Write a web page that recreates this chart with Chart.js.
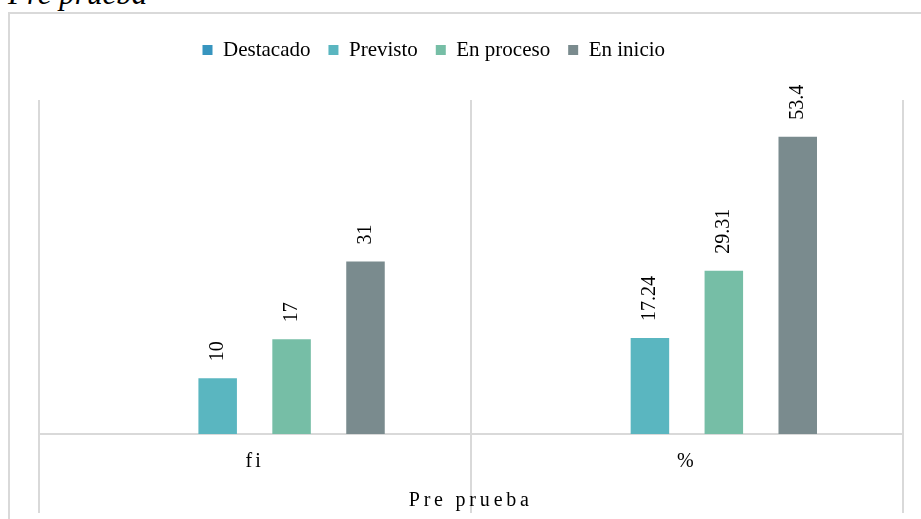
<!DOCTYPE html>
<html>
<head>
<meta charset="utf-8">
<script src="https://cdn.jsdelivr.net/npm/chart.js@4.4.1/dist/chart.umd.min.js"></script>
<style>
  html, body { margin: 0; padding: 0; background: #fff; overflow: hidden; }
  body { width: 921px; height: 519px; position: relative; }
  .titre {
    position: absolute; left: 8px; top: -22.5px;
    font: italic 31px/31px 'Liberation Serif', 'Times New Roman', serif;
    color: #000; white-space: nowrap;
  }
  .cadre {
    position: absolute; left: 8px; top: 12px; width: 940px; height: 540px;
    border-left: 2px solid #d9d9d9; border-top: 2px solid #d9d9d9;
  }
  #chart { position: absolute; left: 0; top: 0; }
</style>
</head>
<body>
<div class="titre">Pre prueba</div>
<div class="cadre"></div>
<canvas id="chart" width="921" height="519"></canvas>
<script>
// données du graphique
const categories = ['fi', '%'];
const seriesNames = ['Destacado', 'Previsto', 'En proceso', 'En inicio'];
const destacado = [0, 0];
const previsto = [10, 17.24];
const enProceso = [17, 29.31];
const enInicio = [31, 53.4];
const axisTitle = 'Pre prueba';
const yMax = 60;

const colors = ['#3795bf', '#5ab6c0', '#76bea6', '#7a8b8e'];
const serif = "'Liberation Serif', 'Times New Roman', serif";
const gridColor = '#d9d9d9';

// petit plugin pour le look Excel
const excelLook = {
  id: 'excelLook',
  afterLayout(chart) {
    // décale la légende comme dans l'original
    const lg = chart.legend;
    if (!lg) return;
    lg.left += 146; lg.right += 146;
    lg.top -= 29.5; lg.bottom -= 29.5;
  },
  afterDatasetsDraw(chart) {
    const ctx = chart.ctx;
    ctx.save();
    ctx.font = '20px ' + serif;
    ctx.fillStyle = '#000';
    ctx.textAlign = 'left';
    ctx.textBaseline = 'middle';
    chart.data.datasets.forEach((ds, i) => {
      const meta = chart.getDatasetMeta(i);
      meta.data.forEach((bar, j) => {
        const v = ds.data[j];
        if (!v) return;
        ctx.save();
        ctx.translate(bar.x, bar.y - 17);
        ctx.rotate(-Math.PI / 2);
        ctx.fillText(String(v), 0, 0);
        ctx.restore();
      });
    });
    ctx.restore();
  },
  afterDraw(chart) {
    const ctx = chart.ctx;
    const xs = chart.scales.x;
    const area = chart.chartArea;
    const half = (xs.getPixelForValue(1) - xs.getPixelForValue(0)) / 2;
    const bounds = categories.map((c, i) => xs.getPixelForValue(i) - half);
    bounds.push(xs.getPixelForValue(categories.length - 1) + half);

    ctx.save();
    // traits verticaux sous l'axe
    ctx.strokeStyle = gridColor;
    ctx.lineWidth = 2;
    bounds.forEach(x => {
      ctx.beginPath();
      ctx.moveTo(Math.round(x), area.bottom);
      ctx.lineTo(Math.round(x), 513);
      ctx.stroke();
    });

    // étiquettes des catégories
    ctx.fillStyle = '#000';
    ctx.textAlign = 'center';
    ctx.textBaseline = 'alphabetic';
    ctx.font = '20px ' + serif;
    ctx.letterSpacing = '3px';
    categories.forEach((c, i) => {
      ctx.fillText(c, xs.getPixelForValue(i), area.bottom + 32.5);
    });

    // titre de l'axe
    ctx.letterSpacing = '3.8px';
    ctx.fillText(axisTitle, (area.left + area.right) / 2, area.bottom + 72);
    ctx.restore();
  }
};

const seriesData = [destacado, previsto, enProceso, enInicio];

new Chart(document.getElementById('chart'), {
  type: 'bar',
  data: {
    labels: categories,
    datasets: seriesNames.map((name, i) => ({
      label: name,
      data: seriesData[i],
      backgroundColor: colors[i],
      borderWidth: 0,
      categoryPercentage: 0.684,
      barPercentage: 0.521
    }))
  },
  options: {
    responsive: false,
    animation: false,
    devicePixelRatio: 1,
    layout: { padding: { top: 51, left: 38.5, right: 18, bottom: 85 } },
    plugins: {
      legend: {
        display: true,
        position: 'top',
        align: 'start',
        labels: {
          boxWidth: 10,
          boxHeight: 10,
          padding: 18,
          color: '#000',
          font: { family: serif, size: 21 }
        }
      },
      tooltip: { enabled: false }
    },
    scales: {
      x: {
        grid: { color: gridColor, lineWidth: 2, drawTicks: false },
        border: { color: gridColor, width: 2 },
        ticks: { display: false }
      },
      y: {
        display: false,
        min: 0,
        max: yMax
      }
    }
  },
  plugins: [excelLook]
});
</script>
</body>
</html>
